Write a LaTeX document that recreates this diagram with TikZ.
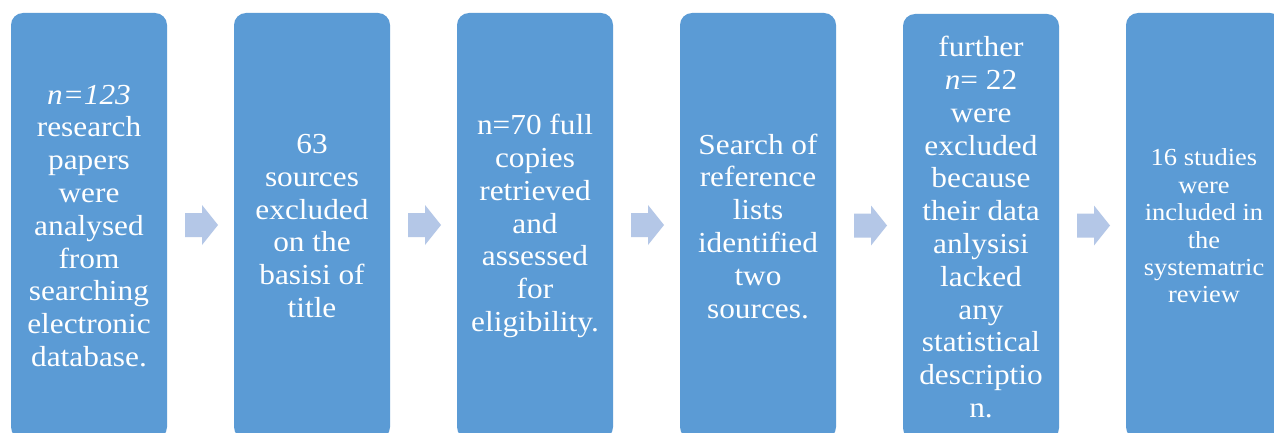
\documentclass[tikz,border=0pt]{standalone}
\usepackage{fontspec}
\setmainfont{Liberation Serif}[FakeStretch=1.08]
\usetikzlibrary{calc}
\definecolor{boxblue}{RGB}{91,155,213}
\definecolor{arrowblue}{RGB}{180,199,231}
\tikzset{
  stage/.style={fill=boxblue, draw=none, rounded corners=12pt,
    minimum width=156pt, minimum height=426pt, inner sep=0pt,
    text=white, align=center,
    font={\fontsize{29}{32.8}\selectfont}},
  smallstage/.style={stage, font={\fontsize{24.5}{27.4}\selectfont}},
  pics/flowarrow/.style={code={
    \fill[arrowblue] (-16.5,-12) -- (0.5,-12) -- (0.5,-20) -- (16.5,0)
      -- (0.5,20) -- (0.5,12) -- (-16.5,12) -- cycle;}}
}
\begin{document}
\begin{tikzpicture}[x=1pt,y=-1pt]
\useasboundingbox (0,0) rectangle (1274,433);
\fill[white] (0,0) rectangle (1274,433);

\begin{scope}
\clip (0,0) rectangle (1274,433);
\node[stage] (s1) at (89,226) {\textit{n=123}\\research\\papers\\were\\analysed\\from\\searching\\electronic\\database.};
\node[stage] (s2) at (312,226) {63\\sources\\excluded\\on the\\basisi of\\title};
\node[stage] (s3) at (535,226) {n=70 full\\copies\\retrieved\\and\\assessed\\for\\eligibility.};
\node[stage] (s4) at (758,226) {Search of\\reference\\lists\\identified\\two\\sources.};
\node[stage] (s5) at (981,227) {further\\\textit{n}= 22\\were\\excluded\\because\\their data\\anlysisi\\lacked\\any\\statistical\\descriptio\\n.};
\node[smallstage] (s6) at (1204,226) {16 studies\\were\\included in\\the\\systematric\\review};
\end{scope}

% block arrows in the gaps between consecutive stages
\foreach \a/\b in {s1/s2,s2/s3,s3/s4,s4/s5,s5/s6}
  \pic at ($(\a.east)!0.5!(\b.west)+(1,-1)$) {flowarrow};
\end{tikzpicture}
\end{document}
